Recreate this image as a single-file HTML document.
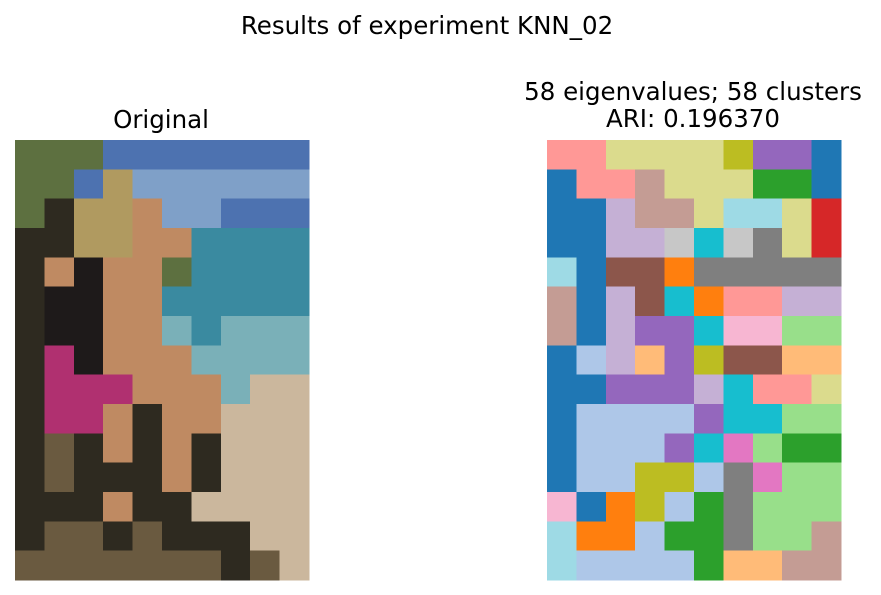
<!DOCTYPE html>
<html><head><meta charset="utf-8">
<style>
body{margin:0;background:#fff;}
svg{display:block;font-family:"DejaVu Sans","Liberation Sans",sans-serif;}
</style></head>
<body>
<svg id="fig" width="881" height="595" viewBox="0 0 881 595">
<text x="427" y="34" text-anchor="middle" font-size="24.5" fill="#000">Results of experiment KNN_02</text>
<text x="161" y="128" text-anchor="middle" font-size="24.5" fill="#000">Original</text>
<text x="693" y="100" text-anchor="middle" font-size="24.5" fill="#000">58 eigenvalues; 58 clusters</text>
<text x="693" y="127" text-anchor="middle" font-size="24.5" fill="#000">ARI: 0.196370</text>
<g id="orig"></g>
<g id="seg"></g>
</svg>
<script>
const photoRows = [
"TTTSSSSSSS","TTSHssssss","TDHHKssSSS","DDHHKKWWWW","DKXKKTWWWW",
"DXXKKWWWWW","DXXKKwWwww","DMXKKKwwww","DMMMKKKwAA","DMMKDKKAAA",
"DFDKDKDAAA","DFDDDKDAAA","DDDKDDAAAA","DFFDFDDDAA","FFFFFFFDFA"];
const photoPalette = {D:"#2e2a20",T:"#5d7040",S:"#4d72b0",s:"#7fa0c8",H:"#b09a60",K:"#bf8a62",W:"#3a8aa0",w:"#7ab0b8",A:"#cbb79d",X:"#1e1a1a",M:"#b03070",F:"#6a5a40"};
const segRows = [
"rrllllLPPB","BrrnlllGGB","BBpnnlcclR","BBppyCyYlR","cBNNOYYYYY",
"nBpNCOrrpp","nBpPPCkkgg","BbpoPLNNoo","BBPPPpCrrl","BbbbbPCCgg",
"BbbbPCKgGG","BbbLLbYKgg","kBOLbGYggg","cOObGGYggn","cbbbbGoonn"];
const segPalette = {B:"#1f77b4",b:"#aec7e8",O:"#ff7f0e",o:"#ffbb78",G:"#2ca02c",g:"#98df8a",R:"#d62728",r:"#ff9896",P:"#9467bd",p:"#c5b0d5",N:"#8c564b",n:"#c49c94",K:"#e377c2",k:"#f7b6d2",Y:"#7f7f7f",y:"#c7c7c7",L:"#bcbd22",l:"#dbdb8d",C:"#17becf",c:"#9edae5"};
function draw(gid, rows, pal, x0, y0, w, h, name){
  const g=document.getElementById(gid);
  const nr=rows.length, nc=rows[0].length, cw=w/nc, ch=h/nr;
  rows.forEach((row,j)=>{[...row].forEach((k,i)=>{
    const r=document.createElementNS("http://www.w3.org/2000/svg","rect");
    r.setAttribute("x",x0+i*cw);r.setAttribute("y",y0+j*ch);
    r.setAttribute("width",cw+0.5);r.setAttribute("height",ch+0.5);
    r.setAttribute("fill",pal[k]);r.setAttribute("shape-rendering","crispEdges");
    
    
    g.appendChild(r);
  });});
}
draw("orig",photoRows,photoPalette,15,140,294,440,"photo-cell");
draw("seg",segRows,segPalette,547,140,294,440,"segment-cell");
</script>
</body></html>
